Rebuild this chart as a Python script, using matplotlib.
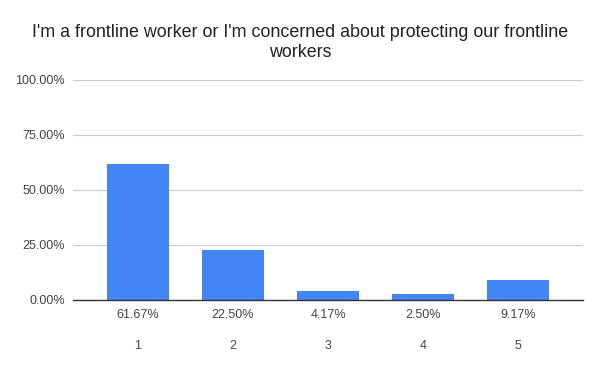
import matplotlib
matplotlib.use('Agg')
import matplotlib.pyplot as plt
from matplotlib.ticker import FuncFormatter

# datos de la grafica
categorias = ['1', '2', '3', '4', '5']
valores = [61.67, 22.50, 4.17, 2.50, 9.17]
titulo = "I'm a frontline worker or I'm concerned about protecting our frontline\nworkers"

plt.rcParams['font.family'] = ['Liberation Sans', 'DejaVu Sans']

fig = plt.figure(figsize=(6, 3.71), dpi=100)
ax = fig.add_axes([0.1217, 0.1914, 0.85, 0.593])

x = range(len(categorias))
ax.bar(x, valores, width=0.65, color='#4285f4', zorder=3)

ax.set_ylim(0, 100)
ax.set_xlim(-0.68, 4.68)
ax.set_yticks([0, 25, 50, 75, 100])
ax.yaxis.set_major_formatter(FuncFormatter(lambda v, p: f"{v:.2f}%"))
ax.grid(axis='y', color='#cccccc', linewidth=0.8, zorder=0)
ax.tick_params(axis='y', length=0, labelsize=9, labelcolor='#444444', pad=6)
ax.tick_params(axis='x', length=0, labelsize=9, labelcolor='#444444', pad=29)
ax.set_xticks(list(x))
ax.set_xticklabels(categorias)

for s in ['top', 'right', 'left']:
    ax.spines[s].set_visible(False)
ax.spines['bottom'].set_color('#333333')
ax.spines['bottom'].set_linewidth(1)
ax.spines['bottom'].set_zorder(4)

# etiquetas de porcentaje debajo de cada barra
for i, v in enumerate(valores):
    ax.annotate(f"{v:.2f}%", xy=(i, 0), xytext=(0, -11), textcoords='offset points',
                ha='center', va='center', fontsize=9, color='#444444')

fig.text(0.5, 0.934, titulo, ha='center', va='top', fontsize=12.9,
         color='#222222', linespacing=1.18)

plt.savefig('out.png', dpi=100)
plt.close()
